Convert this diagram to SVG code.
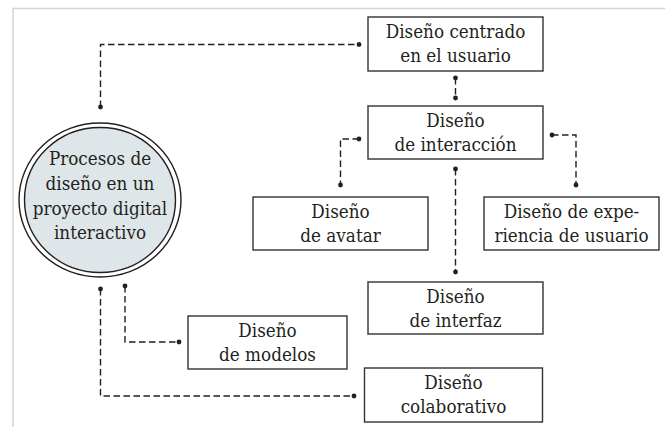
<svg xmlns="http://www.w3.org/2000/svg" width="665" height="427" viewBox="0 0 665 427">
<defs>
<style>
.frame{fill:none;stroke:#d4d4d4;stroke-width:1.5}
.box rect{fill:#fff;stroke:#333;stroke-width:1.4}
.t{font-family:"DejaVu Serif Condensed","DejaVu Serif",serif;font-stretch:condensed;font-size:18.7px;fill:#231f20;text-anchor:middle}
.c{fill:none;stroke:#231f20;stroke-width:1.4;stroke-dasharray:6.5 3.5}
.dot{fill:#231f20}
</style>
</defs>
<rect width="665" height="427" fill="#fff"/>
<path class="frame" d="M13,427 V8.5 H665"/>
<g id="connectors">
<path class="c" d="M100.5,107 V44.5 H359"/>
<path class="c" d="M455.5,78 V98"/>
<path class="c" d="M359,139 H340.5 V185"/>
<path class="c" d="M552,135 H576 V185"/>
<path class="c" d="M455.5,169 V272"/>
<path class="c" d="M125,286 V342 H179"/>
<path class="c" d="M100.5,289 V396 H354"/>
<g class="dot">
<circle cx="100.5" cy="107" r="2.4"/>
<circle cx="359" cy="44.5" r="2.4"/>
<circle cx="455.5" cy="78" r="2.4"/>
<circle cx="455.5" cy="98" r="2.4"/>
<circle cx="359" cy="139" r="2.4"/>
<circle cx="340.5" cy="185" r="2.4"/>
<circle cx="552" cy="135" r="2.4"/>
<circle cx="576" cy="185" r="2.4"/>
<circle cx="455.5" cy="169" r="2.4"/>
<circle cx="455.5" cy="272" r="2.4"/>
<circle cx="125" cy="286" r="2.4"/>
<circle cx="179" cy="342" r="2.4"/>
<circle cx="100.5" cy="289" r="2.4"/>
<circle cx="354" cy="396" r="2.4"/>
</g>
</g>
<g id="procesos">
<ellipse cx="100" cy="200" rx="81" ry="77" fill="#fff" stroke="#231f20" stroke-width="1.4"/>
<ellipse cx="100" cy="200" rx="75.5" ry="72.5" fill="#dfe6ea" stroke="#231f20" stroke-width="1.4"/>
<text class="t" x="100" y="165">Procesos de</text>
<text class="t" x="100" y="190">diseño en un</text>
<text class="t" x="100" y="215">proyecto digital</text>
<text class="t" x="100" y="239">interactivo</text>
</g>
<g id="centrado" class="box">
<rect x="368" y="17" width="175" height="54"/>
<text class="t" x="455.5" y="38">Diseño centrado</text>
<text class="t" x="455.5" y="62">en el usuario</text>
</g>
<g id="interaccion" class="box">
<rect x="368" y="106" width="175" height="53"/>
<text class="t" x="455.5" y="127">Diseño</text>
<text class="t" x="455.5" y="151">de interacción</text>
</g>
<g id="avatar" class="box">
<rect x="253" y="197" width="175" height="53"/>
<text class="t" x="340.5" y="218">Diseño</text>
<text class="t" x="340.5" y="242">de avatar</text>
</g>
<g id="experiencia" class="box">
<rect x="484" y="197" width="175" height="53"/>
<text class="t" x="571.5" y="218">Diseño de expe-</text>
<text class="t" x="571.5" y="242">riencia de usuario</text>
</g>
<g id="interfaz" class="box">
<rect x="368" y="282" width="175" height="52"/>
<text class="t" x="455.5" y="303">Diseño</text>
<text class="t" x="455.5" y="327">de interfaz</text>
</g>
<g id="modelos" class="box">
<rect x="188" y="316" width="159" height="53"/>
<text class="t" x="267.5" y="337">Diseño</text>
<text class="t" x="267.5" y="361">de modelos</text>
</g>
<g id="colaborativo" class="box">
<rect x="364.5" y="368" width="178" height="54"/>
<text class="t" x="453.5" y="389">Diseño</text>
<text class="t" x="453.5" y="413">colaborativo</text>
</g>
</svg>
